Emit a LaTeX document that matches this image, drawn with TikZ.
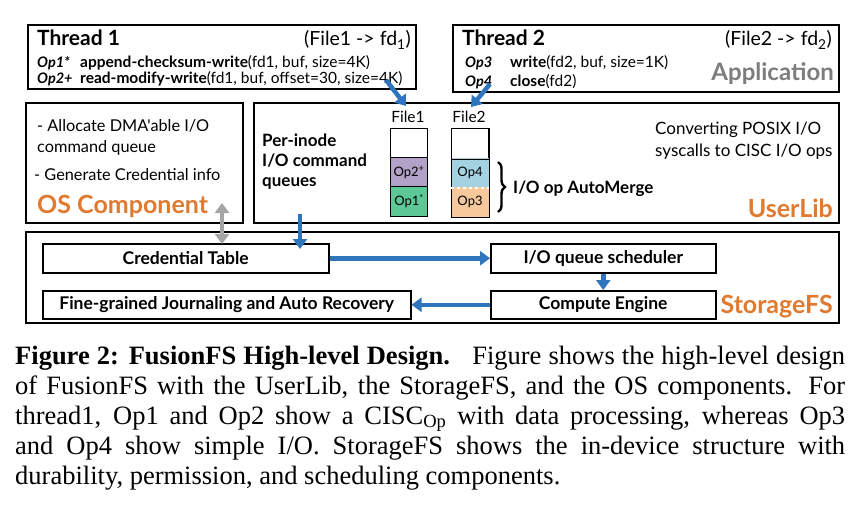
\documentclass[tikz,border=0pt]{standalone}
\usepackage{fontspec}
\setmainfont{Liberation Serif}
\newfontfamily\gs{Lato}
\usetikzlibrary{arrows.meta,decorations.pathreplacing}
\definecolor{arrblue}{RGB}{46,117,190}
\definecolor{lblorange}{RGB}{224,122,48}
\definecolor{arrgray}{RGB}{165,165,165}
\definecolor{appgray}{RGB}{125,125,125}
\definecolor{oppurple}{RGB}{178,162,199}
\definecolor{opgreen}{RGB}{92,200,150}
\definecolor{opblue}{RGB}{164,210,224}
\definecolor{oppeach}{RGB}{246,200,156}
\begin{document}
\begin{tikzpicture}[x=1pt,y=-1pt,
  frame/.style={draw=black,line width=1.8pt,fill=white,anchor=north west,inner sep=0pt},
  inbox/.style={draw=black,line width=1.5pt,fill=white,anchor=north west,inner sep=0pt,font=\gs\bfseries\fontsize{17.5}{20}\selectfont},
  cell/.style={draw=black,line width=1pt,anchor=north west,inner sep=0pt,minimum width=37pt,minimum height=30pt,font=\gs\fontsize{13}{15}\selectfont},
  barrow/.style={draw=arrblue,line width=4.5pt,-{Triangle[length=10pt,width=14pt]}},
  garrow/.style={draw=arrgray,line width=4.5pt,{Triangle[length=10pt,width=14pt]}-{Triangle[length=10pt,width=14pt]}},
  lbl/.style={inner sep=0pt,font=\gs\bfseries\fontsize{25}{28}\selectfont,text=lblorange},
  txt/.style={inner sep=0pt,anchor=base west,font=\gs\fontsize{15.5}{18}\selectfont},
  oplbl/.style={inner sep=0pt,anchor=base west,font=\gs\bfseries\itshape\fontsize{14.5}{17}\selectfont},
  capline/.style={inner sep=0pt,anchor=base west,font=\fontsize{26.5}{30}\selectfont}
]
\useasboundingbox (0,0) rectangle (866,508);
\fill[white] (0,0) rectangle (866,508);

% Thread boxes
\node[frame,minimum width=388pt,minimum height=64pt] (t1) at (27,24) {};
\node[frame,minimum width=386pt,minimum height=67pt] (t2) at (452,24) {};
\node[txt,font=\gs\bfseries\fontsize{21}{24}\selectfont] (t1h) at (37,46) {Thread 1};
\node[txt,font=\gs\fontsize{19.5}{22}\selectfont,anchor=base east] (t1f) at (411,46) {(File1 -> fd\textsubscript{1})};
\node[oplbl] (op1) at (37,68) {Op1*};
\node[txt] (op1t) at (80,68) {\textbf{append-checksum-write}(fd1, buf, size=4K)};
\node[oplbl] (op2) at (37,84) {Op2+};
\node[txt] (op2t) at (80,84) {\textbf{read-modify-write}(fd1, buf, offset=30, size=4K)};

\node[txt,font=\gs\bfseries\fontsize{21}{24}\selectfont] (t2h) at (462,46) {Thread 2};
\node[txt,font=\gs\fontsize{19.5}{22}\selectfont,anchor=base east] (t2f) at (832,46) {(File2 -> fd\textsubscript{2})};
\node[oplbl] (op3) at (465,68) {Op3};
\node[txt] (op3t) at (510,68) {\textbf{write}(fd2, buf, size=1K)};
\node[oplbl] (op4) at (465,87) {Op4};
\node[txt] (op4t) at (510,87) {\textbf{close}(fd2)};
\node[lbl,text=appgray,anchor=base east,font=\gs\bfseries\fontsize{24}{27}\selectfont] (app) at (834,81) {Application};

% OS and UserLib
\node[frame,minimum width=217pt,minimum height=120pt] (os) at (25,102) {};
\node[frame,minimum width=585pt,minimum height=120pt] (ul) at (253,102) {};
\node[txt,font=\gs\fontsize{16.3}{19}\selectfont] (os1) at (37,131) {- Allocate DMA'able I/O};
\node[txt,font=\gs\fontsize{16.3}{19}\selectfont] (os2) at (37,152) {command queue};
\node[txt,font=\gs\fontsize{16.3}{19}\selectfont] (os3) at (34,180) {- Generate Credential info};
\node[lbl,anchor=base west] (oslbl) at (37,213) {OS Component};

\node[txt,font=\gs\bfseries\fontsize{17}{20}\selectfont] (pi1) at (262,146) {Per-inode};
\node[txt,font=\gs\bfseries\fontsize{17}{20}\selectfont] (pi2) at (262,166) {I/O command};
\node[txt,font=\gs\bfseries\fontsize{17}{20}\selectfont] (pi3) at (262,186) {queues};
\node[txt,font=\gs\fontsize{17}{20}\selectfont] (cv1) at (655,134) {Converting POSIX I/O};
\node[txt,font=\gs\fontsize{17}{20}\selectfont] (cv2) at (655,156) {syscalls to CISC I/O ops};
\node[lbl,anchor=base east] (ullbl) at (833,217) {UserLib};

\node[inner sep=0pt,font=\gs\fontsize{15.5}{18}\selectfont] (f1) at (408,117) {File1};
\node[inner sep=0pt,font=\gs\fontsize{15.5}{18}\selectfont] (f2) at (469,117) {File2};
\node[cell,fill=white] (c1a) at (390,128) {};
\node[cell,fill=oppurple] (c1b) at (390,157) {Op2\textsuperscript{+}};
\node[cell,fill=opgreen] (c1c) at (390,186) {Op1\textsuperscript{*}};
\node[cell,fill=white] (c2a) at (451,128) {};
\node[cell,fill=opblue,draw=none] (c2b) at (451,157) {Op4};
\node[cell,fill=oppeach,draw=none] (c2c) at (451,186) {Op3};
\draw[line width=1pt] (c2a.north west) rectangle (c2c.south east);
\draw[line width=1pt] (c2a.south west) -- (c2a.south east);
\draw[white,line width=1.2pt,dashed] (c2b.south west) -- (c2b.south east);
\coordinate (bt) at (498,162);
\coordinate (bb) at (498,212);
\draw[line width=2.4pt,decorate,decoration={brace,amplitude=7pt}] (bt) -- (bb);
\node[txt,font=\gs\bfseries\fontsize{17}{20}\selectfont] (am) at (513,193) {I/O op AutoMerge};

% StorageFS
\node[frame,minimum width=813pt,minimum height=91pt] (sfs) at (25,231) {};
\node[inbox,minimum width=286pt,minimum height=29pt] (ct) at (42,243) {Credential Table};
\node[inbox,minimum width=225pt,minimum height=29pt] (qs) at (490,243) {I/O queue scheduler};
\node[inbox,minimum width=225pt,minimum height=28pt] (ce) at (490,290) {Compute Engine};
\node[inbox,minimum width=368pt,minimum height=28pt] (fj) at (42,290) {Fine-grained Journaling and Auto Recovery};
\node[lbl,anchor=base east] (sfslbl) at (833,313) {StorageFS};

% arrows
\coordinate (a1s) at (386,80);
\coordinate (a1e) at (406,106);
\coordinate (a2s) at (490,84);
\coordinate (a2e) at (471,107);
\draw[barrow] (a1s) -- (a1e);
\draw[barrow] (a2s) -- (a2e);
\coordinate (a3s) at (300,214);
\coordinate (a3e) at (300,249);
\draw[barrow] (a3s) -- (a3e);
\draw[barrow] (ct.east) -- (qs.west);
\draw[barrow] (qs.south) -- (ce.north);
\draw[barrow] (ce.west) -- (fj.east);
\coordinate (gs) at (222,203);
\coordinate (ge) at (222,244);
\draw[garrow] (gs) -- (ge);

% caption
\node[capline] (cap1) at (15,364) {\hbox to 830pt{\textbf{Figure 2: FusionFS High-level Design.}\hspace{0.45em} Figure shows the high-level design}};
\node[capline] (cap2) at (15,394) {\hbox to 830pt{of FusionFS with the UserLib, the StorageFS, and the OS components. For}};
\node[capline] (cap3) at (15,424) {\hbox to 830pt{thread1, Op1 and Op2 show a CISC\textsubscript{Op} with data processing, whereas Op3}};
\node[capline] (cap4) at (15,454) {\hbox to 830pt{and Op4 show simple I/O. StorageFS shows the in-device structure with}};
\node[capline] (cap5) at (15,484) {durability, permission, and scheduling components.};
\end{tikzpicture}
\end{document}
